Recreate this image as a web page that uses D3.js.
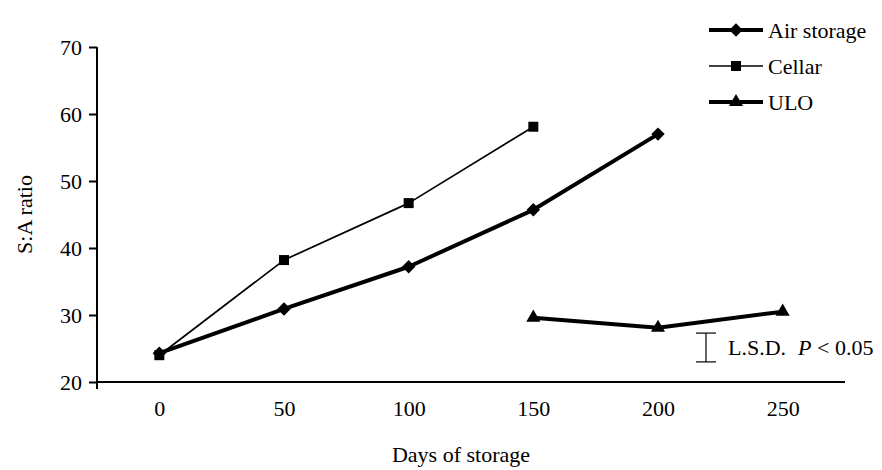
<!DOCTYPE html>
<html>
<head>
<meta charset="utf-8">
<script src="https://cdn.jsdelivr.net/npm/d3@7"></script>
<style>
  body { margin: 0; background: #fff; }
  text { font-family: "Liberation Serif", "Times New Roman", serif; fill: #000; }
</style>
</head>
<body>
<div class="chart"></div>
<script>
// categories on the x axis (days of storage)
const days = [0, 50, 100, 150, 200, 250];

// S:A ratio per treatment
const airDays = [0, 50, 100, 150, 200];
const airValues = [24.3, 30.9, 37.2, 45.7, 57.0];
const cellarDays = [0, 50, 100, 150];
const cellarValues = [24.0, 38.2, 46.7, 58.1];
const uloDays = [150, 200, 250];
const uloValues = [29.6, 28.1, 30.5];

const yTicks = [20, 30, 40, 50, 60, 70];

// least significant difference bar (bottom / top in S:A units)
const lsdRange = [23.0, 27.3];

// chart size
const width = 882;
const height = 470;
const margin = {top: 47, right: 37, bottom: 88, left: 97};
const fontSize = 22;

const svg = d3.select('.chart')
  .append('svg')
  .attr('width', width)
  .attr('height', height);

// x is a category axis, points sit in the middle of each band
let x = d3.scalePoint()
  .domain(days)
  .range([margin.left, width - margin.right])
  .padding(0.5);

let y = d3.scaleLinear()
  .domain([20, 70])
  .range([height - margin.bottom, margin.top]);

// y axis
let yAxis = svg.append('g')
  .attr('transform', 'translate(' + margin.left + ',0)')
  .call(d3.axisLeft(y).tickValues(yTicks).tickSize(8).tickPadding(7));
yAxis.select('.domain').remove();
yAxis.selectAll('line').attr('stroke', '#000').attr('stroke-width', 2);
yAxis.selectAll('text').attr('font-size', fontSize);

svg.append('line')
  .attr('x1', margin.left).attr('x2', margin.left)
  .attr('y1', y(70)).attr('y2', y(20) + 7)
  .attr('stroke', '#000').attr('stroke-width', 2);

// x axis (no tick marks, only labels)
let xAxis = svg.append('g')
  .attr('transform', 'translate(0,' + y(20) + ')')
  .call(d3.axisBottom(x).tickSize(0).tickPadding(18));
xAxis.select('.domain').remove();
xAxis.selectAll('text').attr('font-size', fontSize);

svg.append('line')
  .attr('x1', margin.left).attr('x2', width - margin.right)
  .attr('y1', y(20)).attr('y2', y(20))
  .attr('stroke', '#000').attr('stroke-width', 2);

// axis titles
svg.append('text')
  .attr('x', (margin.left + width - margin.right) / 2 - 10)
  .attr('y', height - 8)
  .attr('text-anchor', 'middle')
  .attr('font-size', fontSize)
  .text('Days of storage');

svg.append('text')
  .attr('transform', 'translate(32,' + (y(45)) + ') rotate(-90)')
  .attr('text-anchor', 'middle')
  .attr('font-size', fontSize)
  .text('S:A ratio');

// series definitions
const series = [
  {name: 'Air storage', days: airDays, values: airValues, width: 4, symbol: d3.symbolSquare, size: 90, rotate: 45},
  {name: 'Cellar', days: cellarDays, values: cellarValues, width: 1.7, symbol: d3.symbolSquare, size: 100, rotate: 0},
  {name: 'ULO', days: uloDays, values: uloValues, width: 4, symbol: d3.symbolTriangle, size: 85, rotate: 0}
];

let line = d3.line()
  .x(d => x(d[0]))
  .y(d => y(d[1]));

series.forEach(s => {
  let pts = s.days.map((d, i) => [d, s.values[i]]);
  svg.append('path')
    .datum(pts)
    .attr('d', line)
    .attr('fill', 'none')
    .attr('stroke', '#000')
    .attr('stroke-width', s.width)
    .attr('stroke-linejoin', 'round');

  svg.selectAll(null)
    .data(pts)
    .enter()
    .append('path')
    .attr('d', d3.symbol().type(s.symbol).size(s.size))
    .attr('transform', d => 'translate(' + x(d[0]) + ',' + y(d[1]) + ') rotate(' + s.rotate + ')')
    .attr('fill', '#000');
});

// legend in the top right corner
const legendX = 709;
const legendY = 30;
const legendGap = 36;
series.forEach((s, i) => {
  let ly = legendY + i * legendGap;
  svg.append('line')
    .attr('x1', legendX).attr('x2', legendX + 54)
    .attr('y1', ly).attr('y2', ly)
    .attr('stroke', '#000')
    .attr('stroke-width', s.width);
  svg.append('path')
    .attr('d', d3.symbol().type(s.symbol).size(s.size))
    .attr('transform', 'translate(' + (legendX + 27) + ',' + ly + ') rotate(' + s.rotate + ')')
    .attr('fill', '#000');
  svg.append('text')
    .attr('x', legendX + 59)
    .attr('y', ly)
    .attr('dy', '0.35em')
    .attr('font-size', fontSize)
    .text(s.name);
});

// L.S.D. bar, placed between the 200 and 250 day points
const lsdX = x(200) + 0.385 * x.step();
svg.append('line')
  .attr('x1', lsdX).attr('x2', lsdX)
  .attr('y1', y(lsdRange[0])).attr('y2', y(lsdRange[1]))
  .attr('stroke', '#000').attr('stroke-width', 1.2);
lsdRange.forEach(v => {
  svg.append('line')
    .attr('x1', lsdX - 10).attr('x2', lsdX + 10)
    .attr('y1', y(v)).attr('y2', y(v))
    .attr('stroke', '#000').attr('stroke-width', 1.2);
});

let lsdText = svg.append('text')
  .attr('x', lsdX + 22)
  .attr('y', y(d3.mean(lsdRange)))
  .attr('dy', '0.35em')
  .attr('font-size', fontSize);
lsdText.append('tspan').text('L.S.D.');
lsdText.append('tspan').attr('dx', 12).attr('font-style', 'italic').text('P');
lsdText.append('tspan').text(' < 0.05');
</script>
</body>
</html>
